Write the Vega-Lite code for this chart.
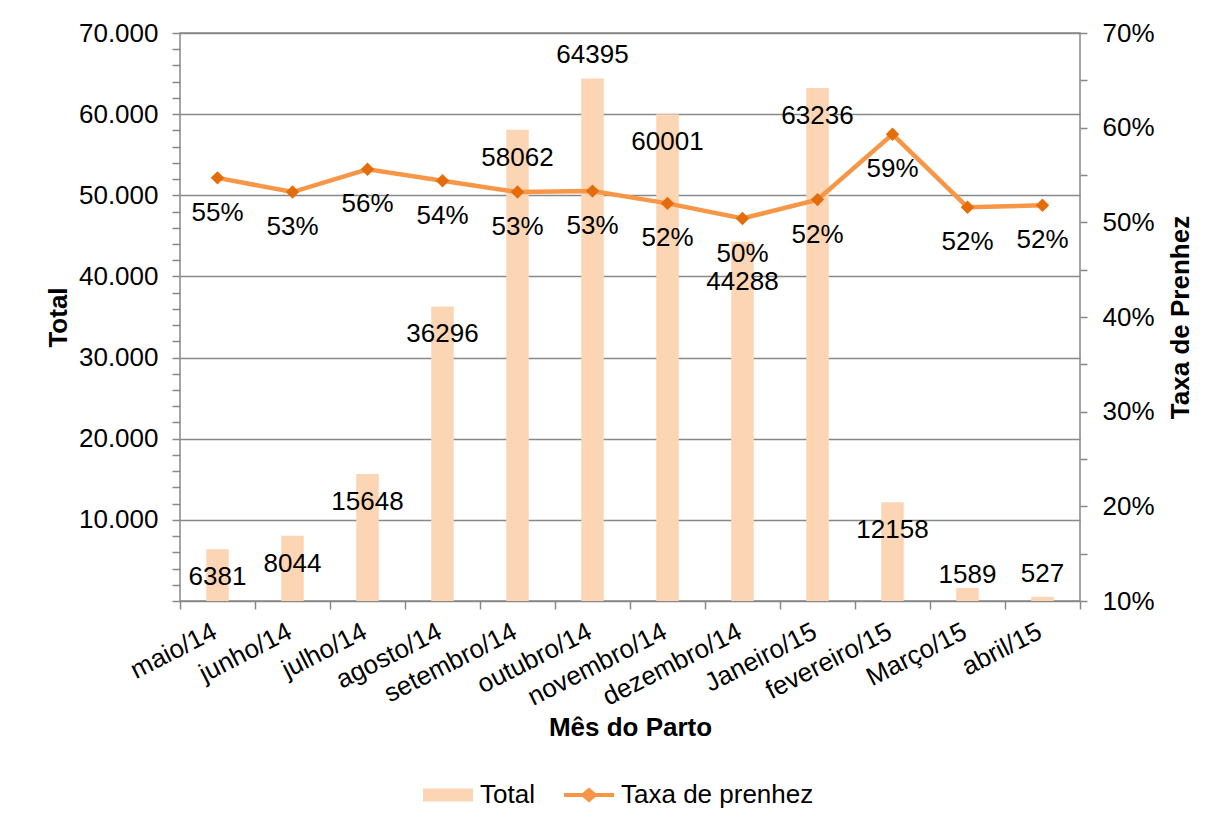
{
  "$schema": "https://vega.github.io/schema/vega-lite/v6.json",
  "width": 900,
  "height": 568,
  "autosize": {"type": "none"},
  "padding": {"left": 180, "top": 33, "right": 140, "bottom": 229},
  "background": "white",
  "config": {
    "view": {"stroke": "#888888", "strokeWidth": 1.5},
    "font": "Liberation Sans",
    "axis": {
      "labelFont": "Liberation Sans",
      "titleFont": "Liberation Sans",
      "labelFontSize": 26,
      "titleFontSize": 26,
      "labelColor": "black",
      "titleColor": "black",
      "domain": false,
      "tickColor": "#888888",
      "tickWidth": 1.5,
      "gridColor": "#888888",
      "gridWidth": 1.5,
      "labelLimit": 0
    }
  },
  "data": {
    "values": [
      {"mes": "maio/14", "total": 6381, "taxa": 0.547},
      {"mes": "junho/14", "total": 8044, "taxa": 0.532},
      {"mes": "julho/14", "total": 15648, "taxa": 0.556},
      {"mes": "agosto/14", "total": 36296, "taxa": 0.544},
      {"mes": "setembro/14", "total": 58062, "taxa": 0.532},
      {"mes": "outubro/14", "total": 64395, "taxa": 0.533},
      {"mes": "novembro/14", "total": 60001, "taxa": 0.52},
      {"mes": "dezembro/14", "total": 44288, "taxa": 0.504},
      {"mes": "Janeiro/15", "total": 63236, "taxa": 0.524},
      {"mes": "fevereiro/15", "total": 12158, "taxa": 0.593},
      {"mes": "Março/15", "total": 1589, "taxa": 0.516},
      {"mes": "abril/15", "total": 527, "taxa": 0.518}
    ]
  },
  "encoding": {
    "x": {
      "field": "mes",
      "type": "nominal",
      "sort": null,
      "scale": {"paddingInner": 0, "paddingOuter": 0},
      "axis": {
        "title": "Mês do Parto",
        "titleFontWeight": "bold",
        "titleY": 134,
        "titleBaseline": "alphabetic",
        "tickBand": "extent",
        "tickSize": 8,
        "labelAngle": -27,
        "labelAlign": "right",
        "labelBaseline": "top",
        "labelPadding": 9,
        "labelOffset": -9,
        "labelOverlap": false,
        "grid": false
      }
    }
  },
  "layer": [
    {
      "encoding": {
        "y": {
          "field": "total",
          "type": "quantitative",
          "scale": {"domain": [0, 70000], "nice": false},
          "axis": {
            "title": "Total",
            "titleFontWeight": "bold",
            "titleAngle": 270,
            "titleBaseline": "alphabetic",
            "titleX": -114,
            "values": [0, 2000, 4000, 6000, 8000, 10000, 12000, 14000, 16000, 18000, 20000, 22000, 24000, 26000, 28000, 30000, 32000, 34000, 36000, 38000, 40000, 42000, 44000, 46000, 48000, 50000, 52000, 54000, 56000, 58000, 60000, 62000, 64000, 66000, 68000, 70000],
            "labelExpr": "datum.value % 10000 === 0 && datum.value > 0 ? replace(format(datum.value, ','), ',', '.') : ''",
            "labelOverlap": false,
            "labelFlush": false,
            "gridOpacity": {"condition": {"test": "datum.value % 10000 === 0", "value": 1}, "value": 0},
            "tickSize": 8,
            "labelPadding": 14
          }
        }
      },
      "layer": [
        {
          "mark": {"type": "bar", "width": {"band": 0.3}},
          "encoding": {
            "color": {
              "datum": "Total",
              "type": "nominal",
              "scale": {"domain": ["Total", "Taxa de prenhez"], "range": ["#FCD5B5", "#F79646"]},
              "legend": {
                "orient": "none",
                "legendX": 243,
                "legendY": 737,
                "direction": "horizontal",
                "title": null,
                "padding": 0,
                "labelFont": "Liberation Sans",
                "labelFontSize": 26,
                "labelColor": "black",
                "labelLimit": 0,
                "symbolSize": 2500,
                "symbolStrokeWidth": 0,
                "labelOffset": 7,
                "columnPadding": 29,
                "encode": {
                  "symbols": {
                    "update": {
                      "shape": {"signal": "datum.value === 'Total' ? 'M-1,-0.26H1V0.26H-1Z' : 'M-1,-0.08H-0.26L0,-0.3L0.26,-0.08H1V0.08H0.26L0,0.3L-0.26,0.08H-1Z'"}
                    }
                  }
                }
              }
            }
          }
        },
        {
          "transform": [{"filter": "indexof(['outubro/14','abril/15','Março/15','dezembro/14'], datum.mes) < 0"}],
          "mark": {"type": "text", "dy": 28, "fontSize": 26, "font": "Liberation Sans", "color": "black"},
          "encoding": {"text": {"field": "total", "type": "quantitative", "format": "d"}}
        },
        {
          "transform": [{"filter": "datum.mes === 'dezembro/14'"}],
          "mark": {"type": "text", "dy": 40, "fontSize": 26, "font": "Liberation Sans", "color": "black"},
          "encoding": {"text": {"field": "total", "type": "quantitative", "format": "d"}}
        },
        {
          "transform": [{"filter": "datum.mes === 'outubro/14' || datum.mes === 'abril/15'"}],
          "mark": {"type": "text", "dy": -23, "fontSize": 26, "font": "Liberation Sans", "color": "black"},
          "encoding": {"text": {"field": "total", "type": "quantitative", "format": "d"}}
        },
        {
          "transform": [{"filter": "datum.mes === 'Março/15'"}],
          "mark": {"type": "text", "dy": -13, "fontSize": 26, "font": "Liberation Sans", "color": "black"},
          "encoding": {"text": {"field": "total", "type": "quantitative", "format": "d"}}
        }
      ]
    },
    {
      "encoding": {
        "y": {
          "field": "taxa",
          "type": "quantitative",
          "scale": {"domain": [0.1, 0.7], "nice": false, "zero": false},
          "axis": {
            "orient": "right",
            "title": "Taxa de Prenhez",
            "titleFontWeight": "bold",
            "titleAngle": 270,
            "titleBaseline": "alphabetic",
            "titleX": 108,
            "values": [0.1, 0.15, 0.2, 0.25, 0.3, 0.35, 0.4, 0.45, 0.5, 0.55, 0.6, 0.65, 0.7],
            "labelExpr": "round(datum.value * 100) % 10 === 0 ? format(datum.value, '.0%') : ''",
            "labelOverlap": false,
            "labelFlush": false,
            "grid": false,
            "tickSize": 7,
            "labelPadding": 15
          }
        }
      },
      "layer": [
        {
          "mark": {"type": "line", "color": "#F79646", "strokeWidth": 4.5},
          "encoding": {}
        },
        {
          "mark": {"type": "point", "shape": "diamond", "filled": true, "color": "#E46C0A", "size": 180, "opacity": 1},
          "encoding": {}
        },
        {
          "mark": {"type": "text", "dy": 35, "fontSize": 26, "font": "Liberation Sans", "color": "black"},
          "encoding": {"text": {"field": "taxa", "type": "quantitative", "format": ".0%"}}
        }
      ]
    }
  ],
  "resolve": {"scale": {"y": "independent"}}
}
